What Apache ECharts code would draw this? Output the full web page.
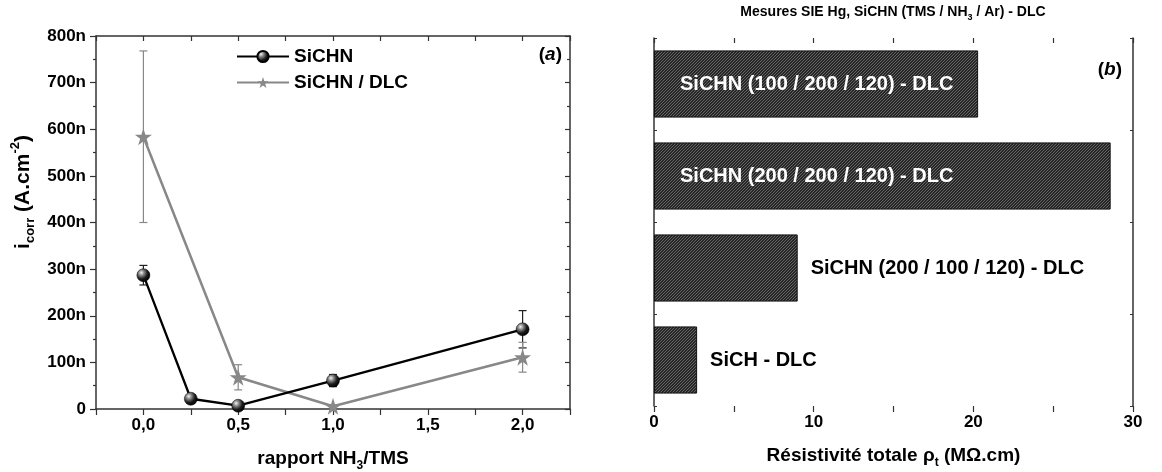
<!DOCTYPE html>
<html><head><meta charset="utf-8">
<script src="https://cdn.jsdelivr.net/npm/echarts@6/dist/echarts.min.js"></script>
<style>html,body{margin:0;padding:0;background:#fff}#c{width:1162px;height:472px}</style>
</head><body><div id="c"></div>
<script>
// ---- data (a) ----
const ratioSiCHN = [0, 0.25, 0.5, 1.0, 2.0];
const icorrSiCHN = [287, 22, 7, 61, 171];
const errSiCHN   = [21, 0, 0, 13, 40];
const ratioDLC   = [0, 0.5, 1.0, 2.0];
const icorrDLC   = [584, 68, 6, 111];
const errDLC     = [184, 27, 0, 32];
const seriesNames = ['SiCHN', 'SiCHN / DLC'];
// ---- data (b) ----
const sampleNames = ['SiCHN (100 / 200 / 120) - DLC', 'SiCHN (200 / 200 / 120) - DLC', 'SiCHN (200 / 100 / 120) - DLC', 'SiCH - DLC'];
const resistivity = [20.3, 28.6, 9.0, 2.7];

const FONT = '"Liberation Sans", Arial, Helvetica, sans-serif';
const AX = '#333';

function hatch() {
  const s = 6;
  const c = document.createElement('canvas'); c.width = s; c.height = s;
  const g = c.getContext('2d');
  g.fillStyle = '#262626'; g.fillRect(0, 0, s, s);
  g.strokeStyle = '#666'; g.lineWidth = 1;
  g.beginPath();
  for (const k of [0, 3, 6, 9, 12]) { g.moveTo(k + 2, -2); g.lineTo(-2, k + 2); }
  g.stroke();
  return c;
}

const sphere = {type: 'radial', x: 0.35, y: 0.32, r: 0.7, colorStops: [
  {offset: 0, color: '#f4f4f4'}, {offset: 0.28, color: '#8a8a8a'}, {offset: 0.65, color: '#1c1c1c'}, {offset: 1, color: '#000'}]};
const star = 'path://M50,0 L61.2,34.5 L97.6,34.5 L68.2,55.9 L79.4,90.5 L50,69.1 L20.6,90.5 L31.8,55.9 L2.4,34.5 L38.8,34.5 Z';

const richSub = {
  sub: {fontSize: 12, fontWeight: 'bold', fontFamily: FONT, color: '#000', verticalAlign: 'bottom', lineHeight: 12},
  sup: {fontSize: 12, fontWeight: 'bold', fontFamily: FONT, color: '#000', verticalAlign: 'top', lineHeight: 12}
};
const richY = {
  sub: {fontSize: 13, fontWeight: 'bold', fontFamily: FONT, color: '#000', verticalAlign: 'bottom', lineHeight: 13},
  sup: {fontSize: 13, fontWeight: 'bold', fontFamily: FONT, color: '#000', verticalAlign: 'top', lineHeight: 13}
};
const nameStyle = {fontSize: 19, fontWeight: 'bold', fontFamily: FONT, color: '#000', lineHeight: 26, rich: richSub};
const lbl = {color: '#000', fontWeight: 'bold', fontSize: 17, fontFamily: FONT};
const line = {lineStyle: {color: AX, width: 1.5}, onZero: false};
const tickOut = {show: true, inside: false, length: 6, lineStyle: {color: AX, width: 1.2}};
const tickIn = {show: true, inside: true, length: 5, lineStyle: {color: AX, width: 1.2}};

function errRender(color) {
  return function (params, api) {
    const x = api.value(0), y = api.value(1), e = api.value(2);
    if (!e) return null;
    const top = api.coord([x, y + e]), bot = api.coord([x, y - e]);
    const w = 4;
    const st = {stroke: color, lineWidth: 1.2};
    return {type: 'group', children: [
      {type: 'line', shape: {x1: top[0], y1: top[1], x2: bot[0], y2: bot[1]}, style: st},
      {type: 'line', shape: {x1: top[0] - w, y1: top[1], x2: top[0] + w, y2: top[1]}, style: st},
      {type: 'line', shape: {x1: bot[0] - w, y1: bot[1], x2: bot[0] + w, y2: bot[1]}, style: st}
    ]};
  };
}

const pattern = {image: hatch(), repeat: 'repeat'};
const barData = resistivity.map((v, i) => ({
  value: v,
  label: i < 2
    ? {show: true, position: 'insideLeft', distance: 26, color: '#fff', fontSize: 20, fontWeight: 'bold', fontFamily: FONT, formatter: () => sampleNames[i]}
    : {show: true, position: 'right', distance: 13, color: '#000', fontSize: 20, fontWeight: 'bold', fontFamily: FONT, formatter: () => sampleNames[i]}
}));

const chart = echarts.init(document.getElementById('c'), null, {renderer: 'canvas'});
chart.setOption({
  backgroundColor: '#fff',
  animation: false,
  grid: [
    {left: 96, top: 36, width: 474, height: 373, containLabel: false, outerBoundsMode: 'none'},
    {left: 654, top: 38, width: 479, height: 368, containLabel: false, outerBoundsMode: 'none'}
  ],
  legend: {
    data: seriesNames, left: 231, top: 42, orient: 'vertical', itemWidth: 52, itemHeight: 14, itemGap: 7,
    textStyle: {fontSize: 19, fontWeight: 'bold', fontFamily: FONT, color: '#000'}
  },
  xAxis: [
    {gridIndex: 0, type: 'value', min: -0.25, max: 2.25, interval: 0.25, axisLine: line, axisTick: tickOut,
      splitLine: {show: false},
      axisLabel: Object.assign({margin: 8, formatter: v => (Math.abs(v * 2 - Math.round(v * 2)) < 1e-6 && v >= 0) ? v.toFixed(1).replace('.', ',') : ''}, lbl),
      name: 'rapport NH{sub|3}/TMS', nameLocation: 'middle', nameGap: 37, nameTextStyle: nameStyle},
    {gridIndex: 0, type: 'value', position: 'top', min: -0.25, max: 2.25, interval: 0.25, axisLine: line, axisTick: tickIn,
      axisLabel: {show: false}, splitLine: {show: false}},
    {gridIndex: 1, type: 'value', min: 0, max: 30, interval: 10, axisLine: line, axisTick: tickOut,
      minorTick: {show: true, splitNumber: 2, length: 6, lineStyle: {color: AX, width: 1.2}},
      splitLine: {show: false}, minorSplitLine: {show: false},
      axisLabel: Object.assign({margin: 8}, lbl),
      name: 'Résistivité totale ρ{sub|t} (MΩ.cm)', nameLocation: 'middle', nameGap: 37, nameTextStyle: nameStyle},
    {gridIndex: 1, type: 'value', position: 'top', min: 0, max: 30, interval: 5, axisLine: line, axisTick: tickIn,
      axisLabel: {show: false}, splitLine: {show: false}}
  ],
  yAxis: [
    {gridIndex: 0, type: 'value', min: 0, max: 800, interval: 100, axisLine: line, axisTick: tickOut,
      minorTick: {show: true, splitNumber: 2, length: 3, lineStyle: {color: AX, width: 1.2}},
      splitLine: {show: false}, minorSplitLine: {show: false},
      axisLabel: Object.assign({margin: 10, formatter: v => v === 0 ? '0' : v + 'n'}, lbl)},
    {gridIndex: 0, type: 'value', position: 'right', min: 0, max: 800, interval: 100, axisLine: line, axisTick: tickIn,
      minorTick: {show: true, splitNumber: 2, length: 3, lineStyle: {color: AX, width: 1.2}},
      splitLine: {show: false}, axisLabel: {show: false}},
    {gridIndex: 1, type: 'category', data: sampleNames, inverse: true, axisLine: line,
      axisTick: {show: true, inside: true, length: 3, lineStyle: {color: AX}}, axisLabel: {show: false}},
    {gridIndex: 1, type: 'category', position: 'right', data: sampleNames, inverse: true, axisLine: line,
      axisTick: {show: true, inside: true, length: 3, lineStyle: {color: AX}}, axisLabel: {show: false}}
  ],
  series: [
    {type: 'custom', name: 'errSiCHN', xAxisIndex: 0, yAxisIndex: 0, z: 3, silent: true,
      renderItem: errRender('#222'), data: ratioSiCHN.map((x, i) => [x, icorrSiCHN[i], errSiCHN[i]])},
    {type: 'custom', name: 'errDLC', xAxisIndex: 0, yAxisIndex: 0, z: 3, silent: true,
      renderItem: errRender('#888'), data: ratioDLC.map((x, i) => [x, icorrDLC[i], errDLC[i]])},
    {type: 'line', name: seriesNames[1], xAxisIndex: 0, yAxisIndex: 0, z: 4,
      data: ratioDLC.map((x, i) => [x, icorrDLC[i]]),
      symbol: star, symbolSize: 17, showAllSymbol: true,
      itemStyle: {color: '#888'}, lineStyle: {color: '#888', width: 2.5}},
    {type: 'line', name: seriesNames[0], xAxisIndex: 0, yAxisIndex: 0, z: 5,
      data: ratioSiCHN.map((x, i) => [x, icorrSiCHN[i]]),
      symbol: 'circle', symbolSize: 13, showAllSymbol: true,
      itemStyle: {color: sphere, borderColor: '#000', borderWidth: 0.5}, lineStyle: {color: '#000', width: 2.3}},
    {type: 'bar', name: 'resistivity', xAxisIndex: 2, yAxisIndex: 2, barWidth: '73%',
      itemStyle: {color: pattern, borderColor: '#111', borderWidth: 1}, data: barData}
  ],
  graphic: [
    {type: 'text', x: 23, y: 192, rotation: Math.PI / 2,
      style: {text: 'i{sub|corr} (A.cm{sup|-2})', align: 'center', verticalAlign: 'middle',
        font: 'bold 21px ' + FONT, fill: '#000', lineHeight: 28, rich: richY}},
    {type: 'text', x: 562, y: 55,
      style: {text: '({i|a})', align: 'right', verticalAlign: 'middle', font: 'bold 19px ' + FONT, fill: '#000',
        rich: {i: {fontStyle: 'italic', fontWeight: 'bold', fontSize: 19, fontFamily: FONT, color: '#000'}}}},
    {type: 'text', x: 1122, y: 70,
      style: {text: '({i|b})', align: 'right', verticalAlign: 'middle', font: 'bold 19px ' + FONT, fill: '#000',
        rich: {i: {fontStyle: 'italic', fontWeight: 'bold', fontSize: 19, fontFamily: FONT, color: '#000'}}}},
    {type: 'text', x: 893, y: 12,
      style: {text: 'Mesures SIE Hg, SiCHN (TMS / NH{s|3} / Ar) - DLC', align: 'center', verticalAlign: 'middle',
        font: 'bold 14px ' + FONT, fill: '#000', lineHeight: 20,
        rich: {s: {fontSize: 9, fontWeight: 'bold', fontFamily: FONT, color: '#000', verticalAlign: 'bottom', lineHeight: 9}}}}
  ]
});
</script>
</body></html>
